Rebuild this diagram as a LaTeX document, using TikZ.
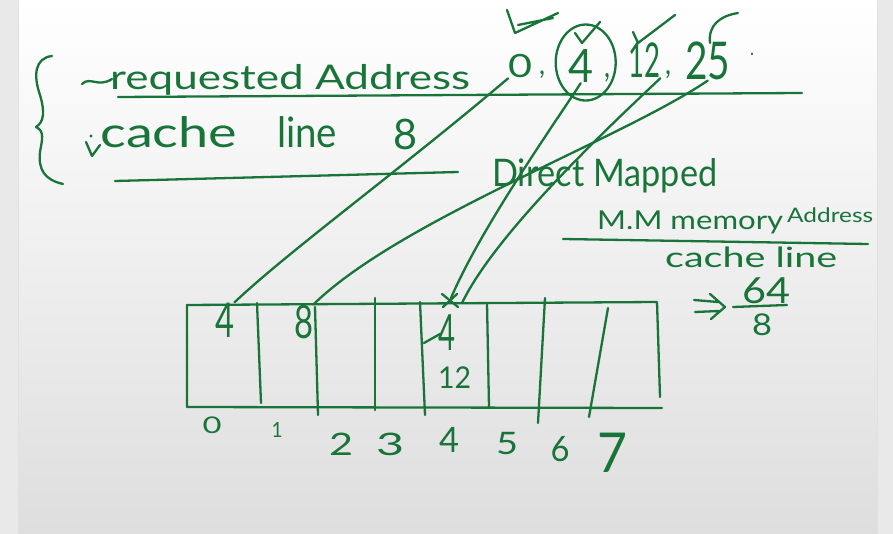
\documentclass[tikz,border=0pt]{standalone}
\usepackage{fontspec}
\setmainfont{Lato}
\usepackage{graphicx}
\usetikzlibrary{calc}
\definecolor{inkgreen}{RGB}{24,116,56}
\definecolor{stripgray}{RGB}{233,233,233}
\newcommand{\inktext}[3]{\resizebox{#1pt}{\height}{\fontsize{#2pt}{#2pt}\selectfont #3}}

\begin{document}
\begin{tikzpicture}[x=1pt,y=-1pt,
    ink/.style={draw=inkgreen,line width=2.3pt,line cap=round,line join=round},
    txt/.style={inkgreen,inner sep=0pt,anchor=base west},
    digit/.style={inkgreen,inner sep=0pt}]
    \useasboundingbox (0,0) rectangle (893,534);
    \fill[stripgray] (0,0) rectangle (18,534);
    \fill[stripgray] (877,0) rectangle (893,534);
    \shade[top color=white,middle color=white!97!black,bottom color=white!87!black] (18,0) rectangle (877,534);
    \draw[black!12,line width=1pt] (18,0) -- (18,534) (877,0) -- (877,534);

    % given data
    \draw[ink] (52,56) .. controls (35,58) and (33,75) .. (40,95) .. controls (45,112) and (44,122) .. (36,127)
        .. controls (45,131) and (42,140) .. (40,152) .. controls (38,170) and (45,180) .. (63,184);
    \draw[ink] (82,84) .. controls (90,76) and (98,88) .. (112,79);
    \node[txt] (req) at (110,90) {\inktext{360}{34}{requested Address}};
    \node[txt] (n0) at (508,78) {\inktext{24}{32}{0}};
    \node[txt] (k0) at (539,75) {\inktext{6}{30}{,}};
    \node[txt] (n4) at (568,83) {\inktext{25}{46}{4}};
    \node[txt] (k4) at (604,78) {\inktext{6}{34}{,}};
    \node[txt] (n12) at (628,78) {\inktext{32}{48}{12}};
    \node[txt] (k12) at (665,75) {\inktext{6}{32}{,}};
    \node[txt] (n25) at (685,80) {\inktext{45}{52}{25}};
    \node[txt] (kd) at (750,56) {\inktext{4}{20}{.}};
    \draw[ink] ($(n4.center)+(5,-4)$) ellipse [x radius=30,y radius=38];
    \draw[ink] (507,10) -- (515,33) -- (558,13) (518,25) -- (553,18);
    \draw[ink] (575,33) -- (582,43) -- (600,22);
    \draw[ink] (633,32) -- (638,43) -- (675,15);
    \draw[ink] (710,43) .. controls (708,25) and (720,16) .. (738,13);
    \draw[ink] (118,97) -- (802,93);

    \draw[ink] (86,142) -- (92,156) -- (100,145);
    \fill[inkgreen] (91,136) circle (1.6);
    \node[txt] (cch) at (100,148) {\inktext{137}{42}{cache}};
    \node[txt] (lne) at (277,148) {\inktext{60}{42}{line}};
    \node[txt] (csz) at (393,150) {\inktext{24}{42}{8}};
    \draw[ink] (115,181) -- (458,172);

    % formula
    \node[txt] (dm) at (492,187) {\inktext{225}{38}{Direct Mapped}};
    \node[txt] (mm) at (597,230) {\inktext{186}{26}{M.M memory}};
    \node[txt] (ad) at (787,223) {\inktext{86}{20}{Address}};
    \draw[ink] (563,239) -- (868,244);
    \node[txt] (cl) at (665,268) {\inktext{172}{28}{cache line}};
    \draw[ink] (694,300) -- (718,302) (695,312) -- (719,311) (710,294) -- (725,307) -- (711,319);
    \node[txt] (sf) at (742,303) {\inktext{48}{36}{64}};
    \draw[ink] (733,307) -- (787,305);
    \node[txt] (sd) at (752,335) {\inktext{20}{30}{8}};

    % cache lines
    \draw[ink] (187,305) -- (657,302) -- (660,397);
    \draw[ink] (187,305) -- (187,407) -- (662,408);
    \foreach \xa/\ya/\xb/\yb in {257/303/261/403,315/307/318/415,375/298/375/410,420/302/425/415,
        487/303/489/407,545/298/538/423,608/308/589/417}
        \draw[ink] (\xa,\ya) -- (\xb,\yb);
    \foreach \i/\x/\y/\s/\w in {0/212/425/23/19,1/277/430/21/11,2/341/444/31/24,3/390/444/31/28,
        4/449/440/35/20,5/507/444/31/22,6/560/449/35/19,7/612/453/55/30}
        \node[digit] (l\i) at (\x,\y) {\inktext{\w}{\s}{\i}};

    \node[txt] (v0) at (215,337) {\inktext{19}{48}{4}};
    \node[txt] (v1) at (294,338) {\inktext{19}{46}{8}};
    \node[txt] (v4) at (438,350) {\inktext{17}{50}{4}};
    \node[txt] (v12) at (438,388) {\inktext{33}{30}{12}};
    \draw[ink] (424,343) -- (440,334);
    \coordinate (hit) at (451,298);
    \coordinate (hitb) at (462,303);
    \draw[ink] (442,294) -- (458,307) (443,307) -- (457,294);

    \draw[ink] (n0.south west) .. controls (400,170) and (290,250) .. (v0.north east);
    \draw[ink] (n25.south) .. controls (620,140) and (400,220) .. (v1.north east);
    \draw[ink] (n4.south) .. controls (550,130) and (480,230) .. (hit);
    \draw[ink] (n12.south east) .. controls (600,135) and (495,235) .. (hitb);
\end{tikzpicture}
\end{document}
